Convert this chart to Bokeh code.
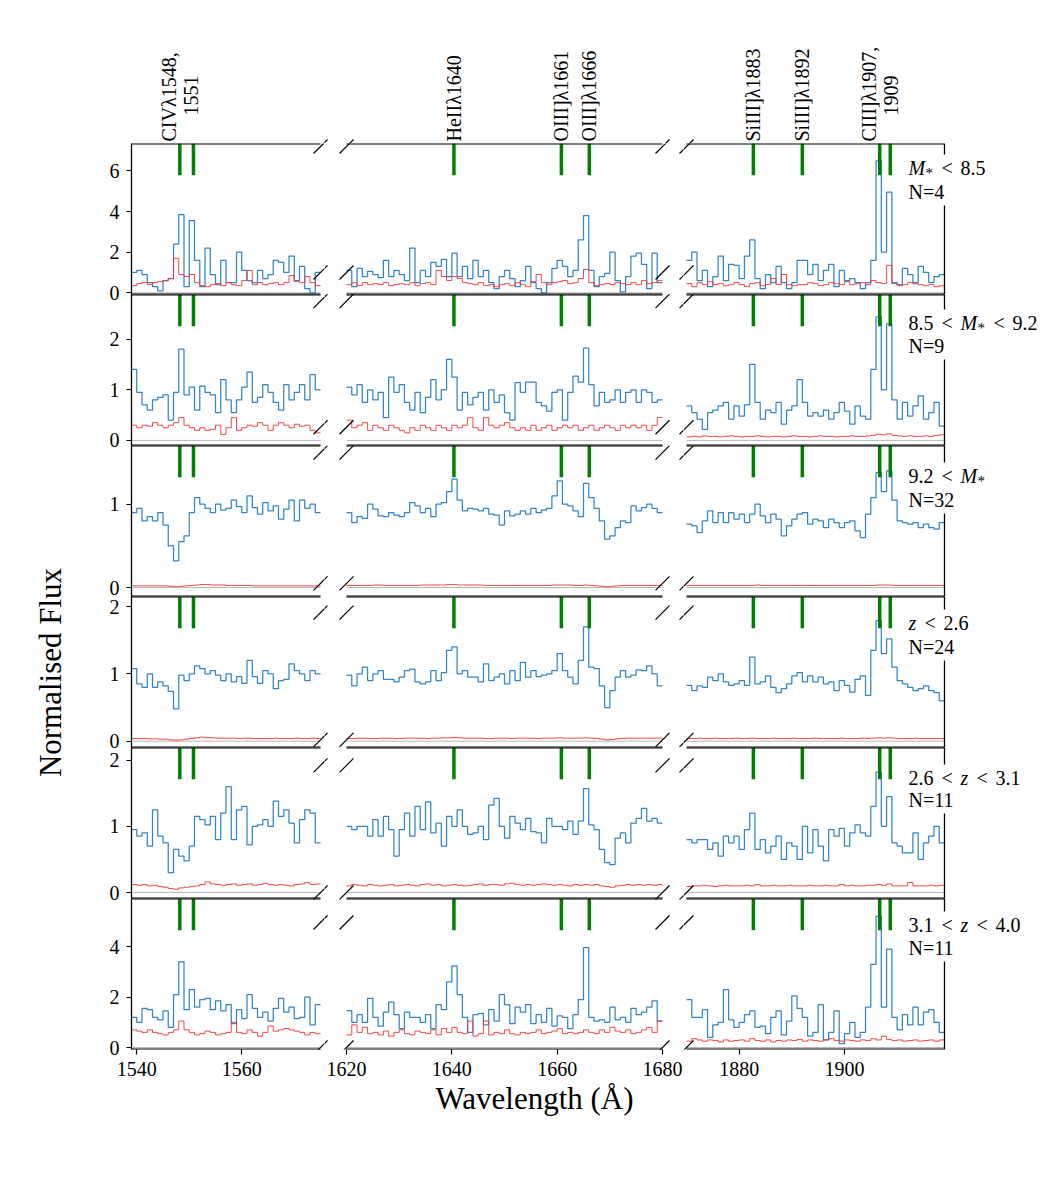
import math
from bokeh.plotting import figure
from bokeh.layouts import row, column
from bokeh.models import Range1d, LinearAxis, FixedTicker, Label, Arrow, BoxAnnotation, Title
from bokeh.core.properties import value
from bokeh.embed import file_html
from bokeh.resources import INLINE

# ---------------------------------------------------------------- data
PANEL_LO = [1539, 1620, 1870]
PANEL_HI = [1575, 1680, 1919]
BIN_WIDTH = 1.0
XTICKS = [[1540, 1560], [1620, 1640, 1660, 1680], [1880, 1900]]

LINES_L = [1548.2, 1550.8]
LINES_M = [1640.4, 1660.8, 1666.1]
LINES_R = [1882.7, 1892.0, 1906.7, 1908.7]
LABEL_AT_L = [1548.2]
LABEL_AT_M = [1640.4, 1660.8, 1666.1]
LABEL_AT_R = [1882.7, 1892.0, 1906.7]
LABELS_L = [("CIVλ1548,", "1551")]
LABELS_M = [("HeIIλ1640",), ("OIII]λ1661",), ("OIII]λ1666",)]
LABELS_R = [("SiIII]λ1883",), ("SiIII]λ1892",), ("CIII]λ1907,", "1909")]

YLIMS = [(-0.084, 7.35), (-0.10, 2.88), (-0.108, 1.705), (-0.094, 2.15), (-0.09, 2.19), (-0.079, 5.91)]
YTICKS = [[0, 2, 4, 6], [0, 1, 2], [0, 1], [0, 1, 2], [0, 1, 2], [0, 2, 4]]
# flux levels at which the axis-break marks sit (top, bottom) in each row
BREAK_Y = [(7.2, 1.0), (2.75, 0.26), (1.62, 0.05), (1.91, 0.02), (1.92, 0.0), (4.96, 0.0)]

SUBSET_N = ["N=4", "N=9", "N=32", "N=24", "N=11", "N=11"]
SUBSET_COND = [
    [("M", "it"), ("*", "sub"), ("<", ""), ("8.5", "")],
    [("8.5", ""), ("<", ""), ("M", "it"), ("*", "sub"), ("<", ""), ("9.2", "")],
    [("9.2", ""), ("<", ""), ("M", "it"), ("*", "sub")],
    [("z", "it"), ("<", ""), ("2.6", "")],
    [("2.6", ""), ("<", ""), ("z", "it"), ("<", ""), ("3.1", "")],
    [("3.1", ""), ("<", ""), ("z", "it"), ("<", ""), ("4.0", "")],
]

# row 1 : M* < 8.5
F1_L = [1.0, 1.1, 0.9, 0.5, 0.3, 0.1, 0.6, 0.7, 2.4, 3.85, 0.3, 3.55, 1.6, 0.3, 2.2, 0.9, 0.4, 1.6, 0.5, 0.5,
        2.0, 1.1, 0.6, 0.5, 1.1, 0.7, 0.9, 1.6, 1.5, 1.0, 1.8, 0.6, 1.3, 0.2, 0.0, 1.0]
E1_L = [0.35, 0.45, 0.5, 0.4, 0.5, 0.55, 0.6, 0.7, 1.7, 0.9, 0.8, 0.9, 0.5, 0.35, 0.3, 0.4, 0.45, 0.35, 0.5, 0.4,
        0.35, 0.6, 1.1, 0.4, 0.5, 0.4, 0.45, 0.5, 0.4, 0.5, 0.85, 0.55, 0.5, 0.8, 0.5, 0.35]
F1_M = [1.1, 0.3, 1.2, 0.8, 1.05, 0.9, 0.75, 1.6, 0.8, 1.1, 0.9, 0.6, 2.2, 0.5, 1.1, 0.8, 1.5, 1.3, 1.65, 0.8,
        1.95, 0.8, 1.3, 0.7, 1.6, 0.8, 1.1, 0.5, 0.2, 0.8, 1.1, 0.7, 0.3, 0.6, 1.3, 0.5, 0.2, 0.0, 0.5, 1.2,
        1.6, 1.3, 0.8, 1.1, 2.6, 3.8, 1.1, 0.3, 0.8, 0.95, 2.0, 0.6, 0.05, 0.8, 1.8, 1.95, 1.4, 0.2, 1.95, 0.5]
E1_M = [0.4, 0.5, 0.35, 0.5, 0.4, 0.45, 0.4, 0.5, 0.35, 0.4, 0.45, 0.4, 0.5, 0.35, 0.45, 0.5, 0.4, 1.1, 0.8, 0.6,
        0.8, 0.7, 0.5, 0.45, 0.4, 0.5, 0.35, 0.4, 0.3, 0.4, 0.45, 0.35, 0.5, 0.4, 0.3, 0.55, 0.9, 0.5, 0.4, 0.5,
        0.55, 0.6, 0.45, 0.5, 0.7, 1.15, 0.5, 0.35, 0.4, 0.45, 0.4, 0.5, 0.45, 0.4, 0.5, 0.4, 0.6, 0.45, 0.5, 0.6]
F1_R = [1.6, 2.0, 0.6, 1.1, 0.3, 0.8, 1.8, 0.6, 1.4, 1.35, 0.7, 1.8, 2.6, 0.7, 0.2, 0.9, 0.5, 1.3, 0.5, 0.2,
        0.5, 1.6, 1.6, 0.9, 1.4, 0.6, 1.1, 1.4, 0.3, 1.1, 0.6, 0.7, 0.5, 0.2, 0.5, 1.6, 6.5, 2.0, 4.95, 0.5,
        0.4, 1.2, 0.9, 0.5, 1.3, 1.0, 0.5, 0.8, 0.9]
E1_R = [0.45, 0.3, 0.5, 0.4, 0.55, 0.4, 0.45, 0.35, 0.4, 0.5, 0.4, 0.3, 0.45, 0.5, 0.35, 0.4, 0.7, 0.4, 0.9, 0.4,
        0.35, 0.4, 0.4, 0.5, 0.45, 0.35, 0.4, 0.5, 0.45, 0.4, 0.55, 0.4, 0.45, 0.5, 0.4, 0.6, 0.5, 0.45, 1.35, 0.45,
        0.35, 0.4, 0.5, 0.45, 0.4, 0.35, 0.4, 0.3, 0.35]

# row 2 : 8.5 < M* < 9.2
F2_L = [1.4, 0.95, 0.7, 0.6, 0.8, 0.85, 0.9, 0.4, 0.95, 1.8, 0.9, 1.05, 0.6, 1.07, 0.95, 0.9, 0.55, 1.2, 0.8, 0.55,
        0.8, 1.05, 1.35, 0.75, 0.85, 1.1, 0.95, 0.75, 0.6, 1.1, 0.8, 0.95, 1.1, 0.8, 1.3, 1.0]
E2_L = [0.3, 0.25, 0.3, 0.28, 0.35, 0.3, 0.25, 0.3, 0.35, 0.45, 0.3, 0.25, 0.2, 0.25, 0.2, 0.22, 0.3, 0.12, 0.25, 0.45,
        0.2, 0.25, 0.3, 0.28, 0.35, 0.3, 0.2, 0.3, 0.35, 0.3, 0.25, 0.32, 0.28, 0.3, 0.2, 0.15]
F2_M = [1.05, 0.9, 1.1, 0.75, 1.0, 0.8, 0.95, 0.45, 1.25, 0.95, 1.1, 0.75, 0.6, 0.95, 0.55, 0.85, 1.2, 0.8, 1.0, 1.6,
        1.25, 0.6, 0.95, 0.7, 0.85, 0.95, 0.6, 1.0, 0.75, 0.9, 0.55, 0.4, 1.14, 0.95, 1.15, 1.15, 0.75, 0.68, 0.58, 0.95,
        1.0, 0.4, 0.95, 1.27, 1.15, 1.82, 1.1, 0.68, 0.95, 0.75, 0.8, 1.0, 0.75, 0.95, 1.0, 0.75, 1.0, 0.95, 0.75, 0.8]
E2_M = [0.4, 0.25, 0.3, 0.35, 0.2, 0.3, 0.25, 0.2, 0.3, 0.25, 0.2, 0.15, 0.25, 0.2, 0.3, 0.25, 0.2, 0.3, 0.25, 0.2,
        0.3, 0.25, 0.3, 0.45, 0.25, 0.2, 0.45, 0.3, 0.25, 0.3, 0.35, 0.25, 0.2, 0.25, 0.2, 0.3, 0.2, 0.25, 0.3, 0.2,
        0.25, 0.3, 0.25, 0.3, 0.2, 0.25, 0.3, 0.2, 0.25, 0.3, 0.25, 0.2, 0.3, 0.25, 0.3, 0.25, 0.3, 0.2, 0.3, 0.45]
F2_R = [0.68, 0.55, 0.42, 0.22, 0.55, 0.6, 0.68, 0.75, 0.42, 0.68, 0.48, 0.7, 1.5, 0.75, 0.42, 0.6, 0.55, 0.75, 0.32, 0.6,
        0.68, 1.2, 0.75, 0.48, 0.55, 0.48, 0.6, 0.42, 0.55, 0.75, 0.58, 0.32, 0.68, 0.48, 0.42, 1.4, 2.44, 1.0, 2.3, 0.8,
        0.42, 0.75, 0.48, 0.68, 0.88, 0.42, 0.55, 0.75, 0.28]
E2_R = [0.07, 0.08, 0.07, 0.09, 0.08, 0.08, 0.07, 0.08, 0.09, 0.08, 0.07, 0.08, 0.08, 0.09, 0.08, 0.07, 0.08, 0.08, 0.07, 0.08,
        0.09, 0.08, 0.08, 0.07, 0.08, 0.09, 0.08, 0.08, 0.07, 0.08, 0.08, 0.09, 0.08, 0.08, 0.09, 0.1, 0.12, 0.11, 0.13, 0.1,
        0.09, 0.08, 0.09, 0.08, 0.08, 0.09, 0.08, 0.1, 0.11]

# row 3 : 9.2 < M*
F3_L = [0.9, 0.95, 0.8, 0.85, 0.8, 0.9, 0.75, 0.5, 0.32, 0.55, 0.62, 0.9, 1.08, 1.0, 0.95, 0.9, 1.0, 0.93, 0.95, 1.05,
        0.97, 0.9, 1.1, 0.96, 0.88, 1.02, 0.92, 0.98, 0.82, 0.94, 1.05, 0.8, 1.05, 0.95, 1.0, 0.9]
E3_L = [0.02, 0.02, 0.02, 0.02, 0.02, 0.02, 0.02, 0.015, 0.01, 0.015, 0.02, 0.025, 0.03, 0.035, 0.035, 0.03, 0.03, 0.03, 0.025, 0.025,
        0.025, 0.025, 0.025, 0.02, 0.02, 0.02, 0.02, 0.02, 0.02, 0.02, 0.02, 0.02, 0.02, 0.02, 0.02, 0.02]
F3_M = [0.9, 0.78, 0.85, 0.83, 1.0, 0.94, 0.86, 0.85, 0.9, 0.87, 0.85, 0.9, 1.02, 0.98, 0.9, 0.95, 0.85, 1.0, 1.02, 1.15,
        1.3, 1.05, 0.92, 0.95, 0.94, 0.92, 0.95, 0.88, 0.87, 0.75, 0.92, 0.86, 0.88, 0.92, 0.88, 0.95, 0.9, 0.93, 0.95, 1.1,
        1.28, 1.0, 0.98, 0.92, 0.85, 1.25, 1.08, 0.95, 0.8, 0.58, 0.62, 0.72, 0.8, 0.78, 0.98, 0.92, 0.96, 1.0, 0.95, 0.9]
E3_M = [0.025, 0.025, 0.025, 0.025, 0.025, 0.03, 0.03, 0.025, 0.025, 0.025, 0.025, 0.025, 0.025, 0.025, 0.03, 0.03, 0.03, 0.03, 0.03, 0.035,
        0.035, 0.03, 0.03, 0.03, 0.03, 0.03, 0.025, 0.025, 0.025, 0.025, 0.025, 0.025, 0.025, 0.025, 0.025, 0.025, 0.025, 0.025, 0.025, 0.03,
        0.03, 0.03, 0.03, 0.025, 0.025, 0.03, 0.025, 0.02, 0.015, 0.01, 0.015, 0.02, 0.025, 0.025, 0.025, 0.025, 0.025, 0.025, 0.025, 0.025]
F3_R = [0.76, 0.74, 0.66, 0.8, 0.92, 0.78, 0.9, 0.78, 0.9, 0.82, 0.88, 0.78, 0.88, 1.0, 0.86, 0.78, 0.88, 0.82, 0.62, 0.74,
        0.82, 0.88, 0.9, 0.76, 0.82, 0.8, 0.72, 0.82, 0.78, 0.72, 0.78, 0.8, 0.68, 0.6, 0.88, 1.08, 1.38, 1.15, 1.4, 1.05,
        0.8, 0.78, 0.76, 0.78, 0.72, 0.76, 0.72, 0.7, 0.78]
E3_R = [0.025, 0.025, 0.025, 0.025, 0.025, 0.025, 0.025, 0.025, 0.025, 0.025, 0.025, 0.025, 0.025, 0.03, 0.025, 0.025, 0.025, 0.025, 0.025, 0.025,
        0.025, 0.025, 0.025, 0.025, 0.025, 0.025, 0.025, 0.025, 0.025, 0.025, 0.025, 0.025, 0.025, 0.025, 0.025, 0.025, 0.03, 0.03, 0.03, 0.025,
        0.025, 0.025, 0.025, 0.025, 0.025, 0.025, 0.025, 0.025, 0.025]

# row 4 : z < 2.6
F4_L = [1.08, 0.85, 0.8, 1.0, 0.8, 0.88, 0.82, 0.74, 0.48, 0.98, 0.9, 1.0, 1.12, 1.08, 1.0, 1.05, 0.98, 0.9, 1.0, 0.88,
        0.96, 0.86, 1.2, 0.96, 0.86, 1.05, 1.0, 0.78, 0.9, 0.92, 1.15, 1.05, 1.0, 0.9, 1.05, 1.0]
E4_L = [0.04, 0.04, 0.04, 0.035, 0.035, 0.03, 0.03, 0.02, 0.015, 0.02, 0.03, 0.04, 0.05, 0.06, 0.055, 0.05, 0.045, 0.045, 0.045, 0.045,
        0.04, 0.045, 0.045, 0.04, 0.04, 0.04, 0.04, 0.045, 0.04, 0.04, 0.04, 0.045, 0.04, 0.04, 0.045, 0.04]
F4_M = [0.98, 0.82, 1.0, 1.1, 0.9, 1.0, 1.05, 0.92, 0.92, 0.88, 0.95, 1.05, 1.07, 0.88, 0.85, 0.88, 1.05, 0.9, 1.02, 1.35,
        1.4, 1.0, 1.05, 0.95, 0.95, 0.88, 1.15, 0.9, 0.95, 1.0, 0.85, 1.05, 0.9, 1.17, 0.95, 1.05, 0.96, 0.98, 1.0, 1.05,
        1.3, 1.05, 0.95, 0.85, 1.2, 1.7, 1.1, 1.08, 0.82, 0.5, 0.75, 0.95, 1.05, 0.95, 0.98, 1.06, 1.05, 1.12, 1.0, 0.82]
E4_M = [0.04, 0.04, 0.045, 0.045, 0.04, 0.04, 0.045, 0.045, 0.045, 0.04, 0.04, 0.045, 0.045, 0.045, 0.045, 0.04, 0.045, 0.045, 0.05, 0.05,
        0.055, 0.05, 0.045, 0.045, 0.045, 0.045, 0.04, 0.04, 0.045, 0.045, 0.045, 0.04, 0.045, 0.045, 0.045, 0.045, 0.04, 0.045, 0.045, 0.045,
        0.05, 0.045, 0.045, 0.045, 0.045, 0.05, 0.045, 0.04, 0.03, 0.02, 0.025, 0.035, 0.04, 0.045, 0.045, 0.045, 0.045, 0.045, 0.045, 0.045]
F4_R = [0.83, 0.75, 0.82, 0.8, 0.95, 0.9, 1.0, 0.88, 0.83, 0.85, 0.9, 0.83, 1.25, 0.85, 0.88, 0.97, 0.8, 0.72, 0.78, 0.85,
        0.97, 1.02, 0.88, 0.97, 0.88, 0.95, 0.85, 0.88, 0.75, 0.9, 0.83, 0.73, 0.92, 0.97, 0.68, 1.35, 1.79, 1.3, 1.52, 1.1,
        0.9, 0.85, 0.8, 0.75, 0.78, 0.82, 0.75, 0.72, 0.6]
E4_R = [0.04, 0.04, 0.045, 0.04, 0.04, 0.045, 0.04, 0.04, 0.04, 0.045, 0.04, 0.04, 0.045, 0.04, 0.04, 0.04, 0.045, 0.04, 0.04, 0.04,
        0.045, 0.04, 0.04, 0.04, 0.045, 0.04, 0.04, 0.04, 0.04, 0.045, 0.04, 0.04, 0.04, 0.045, 0.04, 0.045, 0.05, 0.045, 0.05, 0.045,
        0.04, 0.04, 0.04, 0.045, 0.04, 0.04, 0.04, 0.04, 0.04]

# row 5 : 2.6 < z < 3.1
F5_L = [0.95, 0.85, 0.9, 0.7, 1.25, 0.85, 0.75, 0.3, 0.65, 0.55, 0.48, 0.7, 1.15, 1.1, 1.02, 1.15, 0.8, 1.2, 1.6, 0.8,
        1.25, 1.3, 0.72, 1.0, 1.02, 1.1, 1.0, 1.38, 1.15, 1.25, 1.05, 0.75, 1.1, 1.25, 1.2, 0.75]
E5_L = [0.12, 0.11, 0.12, 0.1, 0.11, 0.09, 0.08, 0.06, 0.05, 0.07, 0.08, 0.09, 0.1, 0.12, 0.16, 0.13, 0.12, 0.11, 0.12, 0.13,
        0.11, 0.12, 0.13, 0.11, 0.12, 0.14, 0.12, 0.11, 0.12, 0.11, 0.1, 0.12, 0.13, 0.15, 0.12, 0.13]
F5_M = [1.0, 0.95, 1.0, 1.0, 0.85, 1.1, 0.85, 1.15, 0.95, 0.55, 0.95, 1.2, 0.85, 1.3, 0.95, 1.37, 0.9, 1.05, 0.7, 1.15,
        1.0, 1.25, 1.0, 0.88, 0.9, 1.0, 0.8, 1.32, 1.42, 1.0, 0.82, 1.15, 1.05, 0.95, 1.12, 0.92, 0.9, 0.75, 1.12, 1.0,
        1.0, 0.95, 1.08, 0.88, 1.08, 1.57, 1.02, 0.95, 0.65, 0.45, 0.42, 0.82, 0.9, 0.75, 1.05, 1.12, 1.27, 1.08, 1.12, 1.05]
E5_M = [0.1, 0.12, 0.11, 0.1, 0.12, 0.11, 0.1, 0.11, 0.12, 0.1, 0.11, 0.12, 0.11, 0.1, 0.12, 0.13, 0.11, 0.12, 0.1, 0.11,
        0.12, 0.11, 0.1, 0.11, 0.12, 0.13, 0.11, 0.12, 0.12, 0.11, 0.13, 0.14, 0.12, 0.11, 0.12, 0.11, 0.12, 0.13, 0.12, 0.11,
        0.12, 0.11, 0.1, 0.12, 0.11, 0.12, 0.11, 0.12, 0.1, 0.09, 0.08, 0.1, 0.11, 0.12, 0.11, 0.12, 0.11, 0.12, 0.11, 0.12]
F5_R = [0.8, 0.75, 0.8, 0.8, 0.65, 0.75, 0.55, 0.85, 0.75, 0.85, 0.65, 0.95, 1.2, 0.65, 0.8, 0.6, 0.7, 0.85, 0.5, 0.75,
        0.7, 0.5, 1.0, 0.6, 0.95, 0.7, 0.48, 0.95, 0.85, 0.97, 0.7, 0.9, 1.02, 0.9, 0.85, 1.3, 1.82, 1.0, 1.45, 0.75,
        0.7, 0.6, 0.6, 0.9, 0.5, 0.75, 0.85, 1.0, 0.75]
E5_R = [0.09, 0.1, 0.1, 0.11, 0.1, 0.09, 0.1, 0.11, 0.1, 0.1, 0.1, 0.11, 0.1, 0.12, 0.1, 0.1, 0.11, 0.1, 0.1, 0.11,
        0.1, 0.1, 0.1, 0.11, 0.1, 0.1, 0.11, 0.1, 0.1, 0.12, 0.1, 0.11, 0.1, 0.1, 0.11, 0.11, 0.12, 0.11, 0.13, 0.1,
        0.1, 0.1, 0.15, 0.1, 0.1, 0.1, 0.11, 0.1, 0.11]

# row 6 : 3.1 < z < 4.0
F6_L = [1.2, 1.0, 1.55, 1.5, 1.2, 1.1, 1.45, 0.8, 2.1, 3.4, 1.5, 2.3, 1.6, 1.9, 1.95, 1.5, 1.85, 1.45, 1.7, 0.95,
        1.5, 1.15, 2.1, 1.55, 1.2, 1.4, 1.05, 1.55, 1.95, 1.4, 1.6, 1.15, 1.2, 2.0, 0.9, 1.7]
E6_L = [0.7, 0.65, 0.6, 0.7, 0.6, 0.55, 0.5, 0.6, 0.7, 1.05, 0.7, 0.6, 0.5, 0.55, 0.65, 0.6, 0.5, 0.55, 0.6, 1.0,
        0.6, 0.55, 0.7, 0.6, 0.45, 0.6, 0.85, 0.65, 0.7, 0.75, 0.7, 0.65, 0.6, 0.5, 0.6, 0.55]
F6_M = [1.46, 1.0, 1.3, 1.0, 1.95, 1.2, 0.85, 1.4, 1.8, 1.3, 0.75, 1.4, 1.2, 1.2, 1.0, 1.3, 0.75, 1.7, 1.5, 2.6,
        3.24, 2.1, 1.2, 0.6, 1.3, 1.35, 0.9, 1.5, 1.05, 2.1, 1.7, 0.95, 1.6, 1.4, 1.7, 0.95, 1.3, 1.0, 1.55, 0.85,
        1.25, 1.2, 0.75, 1.3, 1.9, 3.96, 1.2, 1.05, 1.1, 1.0, 1.6, 1.1, 1.2, 1.0, 1.55, 1.3, 1.4, 1.6, 1.85, 1.05]
E6_M = [0.5, 0.9, 0.6, 0.8, 0.55, 0.6, 0.5, 0.65, 0.45, 0.6, 0.7, 0.55, 0.5, 0.65, 0.6, 0.55, 0.7, 0.5, 0.75, 0.6,
        0.8, 0.6, 0.55, 1.05, 0.45, 0.55, 1.05, 0.5, 0.6, 0.55, 0.7, 0.55, 0.5, 0.6, 0.55, 0.6, 0.7, 0.55, 0.6, 0.65,
        0.75, 0.55, 0.6, 0.55, 0.6, 0.7, 0.6, 0.55, 0.7, 0.6, 0.8, 0.65, 0.6, 0.7, 0.55, 0.6, 0.7, 0.8, 0.6, 1.05]
F6_R = [1.9, 1.2, 1.2, 1.5, 0.4, 0.9, 1.0, 2.3, 1.1, 0.8, 1.0, 1.3, 1.45, 0.8, 0.85, 0.55, 1.2, 1.45, 0.5, 1.05,
        2.05, 1.55, 1.2, 0.45, 0.6, 1.7, 0.3, 0.6, 1.45, 0.15, 0.55, 1.0, 0.4, 0.6, 1.6, 3.3, 5.2, 1.6, 3.9, 1.2,
        0.7, 1.3, 0.9, 1.6, 0.9, 1.4, 1.5, 1.0, 0.6]
E6_R = [0.25, 0.35, 0.3, 0.25, 0.3, 0.28, 0.22, 0.3, 0.25, 0.28, 0.3, 0.25, 0.35, 0.28, 0.25, 0.3, 0.22, 0.28, 0.25, 0.3,
        0.28, 0.32, 0.25, 0.3, 0.28, 0.25, 0.3, 0.35, 0.28, 0.25, 0.3, 0.28, 0.25, 0.3, 0.28, 0.35, 0.3, 0.45, 0.32, 0.28,
        0.3, 0.25, 0.28, 0.3, 0.25, 0.28, 0.3, 0.25, 0.3]

FLUX = [[F1_L, F1_M, F1_R], [F2_L, F2_M, F2_R], [F3_L, F3_M, F3_R],
        [F4_L, F4_M, F4_R], [F5_L, F5_M, F5_R], [F6_L, F6_M, F6_R]]
ERR = [[E1_L, E1_M, E1_R], [E2_L, E2_M, E2_R], [E3_L, E3_M, E3_R],
       [E4_L, E4_M, E4_R], [E5_L, E5_M, E5_R], [E6_L, E6_M, E6_R]]
LINES = [LINES_L, LINES_M, LINES_R]
LABEL_AT = [LABEL_AT_L, LABEL_AT_M, LABEL_AT_R]
LABELS = [LABELS_L, LABELS_M, LABELS_R]

# ---------------------------------------------------------------- style / layout
FONT = "Liberation Serif"
BLUE = "#3485c7"
RED = "#ee3636"
GREEN = "#008000"

YLAB_W = 80
PANEL_X0 = [131, 346, 686]                 # page x of each panel's left edge
PANEL_PX = [189, 316, 258]                 # panel widths in pixels
FRAME_X0 = [131, 324, 683]                 # frames tile the row (gaps included)
FRAME_X1 = [324, 683, 1050]
BORDER_L = [51, 0, 0]
FIG_W = [BORDER_L[c] + FRAME_X1[c] - FRAME_X0[c] for c in range(3)]
PPX = [PANEL_PX[c] / (PANEL_HI[c] - PANEL_LO[c]) for c in range(3)]

HEADER_H = 143
FRAME_H = 151
OV = 12                                     # transparent overlap between rows
BOTTOM_B = 88
FY0 = [HEADER_H + FRAME_H * r for r in range(6)]
PPU = [FRAME_H / (hi - lo) for lo, hi in YLIMS]
TOTAL_H = HEADER_H + 6 * FRAME_H + BOTTOM_B
SPINE_PX = 1.0

COND_X = [
    [908, 925, 941, 960],
    [908, 941, 960, 977, 993, 1012],
    [908, 941, 960, 977],
    [908, 924, 943],
    [908, 941, 960, 976, 995],
    [908, 941, 960, 976, 995],
]
COND_DY = [(24, 48), (28, 51), (30, 54), (26, 50), (30, 52), (26, 49)]


def data_x(c, px):
    return PANEL_LO[c] + (px - PANEL_X0[c]) / PPX[c]


def data_y(r, py):
    return YLIMS[r][1] - (py - FY0[r]) / PPU[r]


def page_x(c, x):
    return PANEL_X0[c] + (x - PANEL_LO[c]) * PPX[c]


def page_y(r, y):
    return FY0[r] + (YLIMS[r][1] - y) * PPU[r]


XR = [Range1d(data_x(c, FRAME_X0[c]), data_x(c, FRAME_X1[c])) for c in range(3)]


def bare_fig(w, h, xr, yr, bl=0, br=0, bt=0, bb=0):
    f = figure(width=w, height=h, x_range=xr, y_range=yr,
               min_border_left=bl, min_border_right=br, min_border_top=bt, min_border_bottom=bb,
               x_axis_location=None, y_axis_location=None,
               output_backend="svg", toolbar_location=None, tools="")
    f.outline_line_color = None
    f.grid.visible = False
    f.background_fill_color = None
    f.border_fill_color = None
    return f


def add_axis(p, side, ticks, line=True):
    ax = LinearAxis(ticker=FixedTicker(ticks=ticks, minor_ticks=[]),
                    axis_line_color="black" if line else None, axis_line_width=1.3,
                    major_tick_in=0, major_tick_out=5,
                    major_tick_line_color="black", major_tick_line_width=1.2,
                    minor_tick_line_color=None, minor_tick_out=0, minor_tick_in=0,
                    major_label_text_font=FONT, major_label_text_font_size="20px",
                    major_label_text_color="black", major_label_standoff=7)
    p.add_layout(ax, side)
    return ax


# ---- header row with the line identifications
headers = []
for c in range(3):
    h = bare_fig(FIG_W[c], HEADER_H, XR[c], Range1d(0, HEADER_H), BORDER_L[c])
    for lam, lab in zip(LABEL_AT[c], LABELS[c]):
        if len(lab) == 1:
            h.text(x=[lam], y=[2], text=[lab[0]], angle=math.pi / 2, text_align="left",
                   text_baseline="middle", text_font=value(FONT), text_font_size="20px", text_color="black")
        else:
            h.text(x=[lam], y=[2], text=[lab[0]], angle=math.pi / 2, text_align="left",
                   text_baseline="middle", text_font=value(FONT), text_font_size="20px",
                   text_color="black", x_offset=-11)
            h.text(x=[lam], y=[48], text=[lab[1]], angle=math.pi / 2, text_align="center",
                   text_baseline="middle", text_font=value(FONT), text_font_size="20px",
                   text_color="black", x_offset=11)
    headers.append(h)

# ---- the 6 x 3 panels
panels = [[None] * 3 for _ in range(6)]
for r in range(6):
    ylo, yhi = YLIMS[r]
    last = r == 5
    sp = SPINE_PX / PPU[r]
    for c in range(3):
        lo, hi = PANEL_LO[c], PANEL_HI[c]
        p = bare_fig(FIG_W[c], OV + FRAME_H + (BOTTOM_B if last else OV), XR[c], Range1d(ylo, yhi),
                     BORDER_L[c], 0, OV, BOTTOM_B if last else OV)
        # zero level
        p.segment(x0=[lo], y0=[0], x1=[hi], y1=[0], line_color="#b8b8b8", line_width=1)
        vals = FLUX[r][c]
        xs = [lo + i * BIN_WIDTH for i in range(len(vals) + 1)]
        p.step(xs, list(vals) + [vals[-1]], mode="after", line_color=BLUE, line_width=1.25)
        ev = ERR[r][c]
        xe = [lo + i * BIN_WIDTH for i in range(len(ev) + 1)]
        p.step(xe, list(ev) + [ev[-1]], mode="after", line_color=RED, line_width=1.0, line_alpha=0.9)
        yg = ylo + 0.79 * (yhi - ylo)
        n = len(LINES[c])
        p.segment(x0=LINES[c], y0=[yg] * n, x1=LINES[c], y1=[yhi] * n, line_color=GREEN, line_width=3.5)
        # top and bottom spines as thin filled bands along the frame edges
        p.quad(left=[lo, lo], right=[hi, hi], top=[yhi + sp, ylo + sp], bottom=[yhi - sp, ylo - sp],
               fill_color="black", line_color=None)
        if c == 0:
            add_axis(p, "left", YTICKS[r])
        if c == 2:
            p.segment(x0=[hi], y0=[ylo], x1=[hi], y1=[yhi], line_color="black", line_width=1.3)
        if last:
            add_axis(p, "below", XTICKS[c], line=False)
            if c == 1:
                p.add_layout(Title(text="Wavelength (Å)", align="left", offset=435 - FRAME_X0[1],
                                   text_font=FONT, text_font_size="31px", text_font_style="normal",
                                   text_color="black", standoff=0), "below")
        if c == 2:
            top = FY0[r]
            p.add_layout(BoxAnnotation(left=data_x(2, 903), right=data_x(2, 952),
                                       top=data_y(r, top + COND_DY[r][0] - 13),
                                       bottom=data_y(r, top + COND_DY[r][1] + 14),
                                       fill_color="white", fill_alpha=1.0, line_color=None))
            for (tok, sty), tx in zip(SUBSET_COND[r], COND_X[r]):
                ty = top + COND_DY[r][0]
                size = "20px"
                if sty == "sub":
                    ty += 5
                    size = "15px"
                p.add_layout(Label(x=data_x(2, tx), y=data_y(r, ty), text=tok, text_font=FONT,
                                   text_font_size=size,
                                   text_font_style="italic" if sty == "it" else "normal",
                                   text_align="left", text_baseline="middle", text_color="black"))
            p.add_layout(Label(x=data_x(2, 908), y=data_y(r, top + COND_DY[r][1]), text=SUBSET_N[r],
                               text_font=FONT, text_font_size="20px", text_align="left",
                               text_baseline="middle", text_color="black"))
        panels[r][c] = p

# ---- axis-break marks: drawn in every frame they touch (frames tile the page)
HALF = 7
marks = []
for r in range(6):
    for yv in BREAK_Y[r]:
        py = page_y(r, yv)
        for c, xv in ((0, PANEL_HI[0]), (1, PANEL_LO[1]), (1, PANEL_HI[1]), (2, PANEL_LO[2])):
            marks.append((page_x(c, xv), py))
for (mx, my) in marks:
    for c in range(3):
        if mx + HALF < FRAME_X0[c] or mx - HALF > FRAME_X1[c]:
            continue
        for r in range(6):
            if my + HALF < FY0[r] or my - HALF > FY0[r] + FRAME_H:
                continue
            panels[r][c].add_layout(Arrow(x_start=data_x(c, mx - HALF), y_start=data_y(r, my + HALF),
                                          x_end=data_x(c, mx + HALF), y_end=data_y(r, my - HALF),
                                          start=None, end=None, line_color="black", line_width=1.2))
        if my - HALF < HEADER_H:
            headers[c].add_layout(Arrow(x_start=data_x(c, mx - HALF), y_start=HEADER_H - (my + HALF),
                                        x_end=data_x(c, mx + HALF), y_end=HEADER_H - (my - HALF),
                                        start=None, end=None, line_color="black", line_width=1.2))

# ---- y title
ylab = bare_fig(YLAB_W, TOTAL_H, Range1d(0, YLAB_W), Range1d(TOTAL_H, 0))
ylab.add_layout(Label(x=50, y=672, text="Normalised Flux", angle=math.pi / 2, text_align="center",
                      text_baseline="middle", text_font=FONT, text_font_size="31px", text_color="black"))

rows = [row(*headers, spacing=0)]
for r in range(6):
    rows.append(row(*panels[r], spacing=0, margin=(-OV, 0, 0 if r == 5 else -OV, 0)))
layout = row(ylab, column(*rows, spacing=0), spacing=0)

open("out.html", "w").write(file_html(layout, INLINE, title="Composite spectra"))
